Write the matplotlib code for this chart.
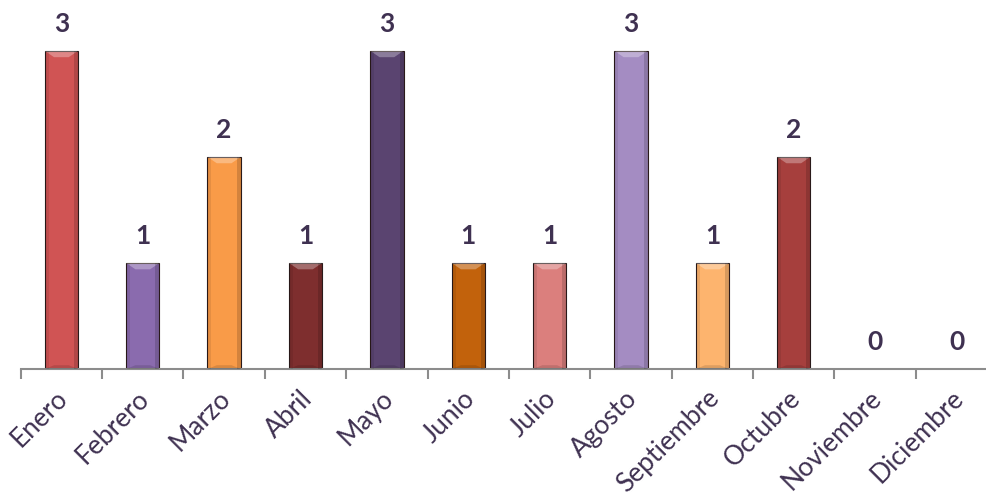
import numpy as np
import matplotlib.pyplot as plt
from matplotlib.patches import Polygon
from matplotlib.transforms import ScaledTranslation

meses = ['Enero', 'Febrero', 'Marzo', 'Abril', 'Mayo', 'Junio', 'Julio',
         'Agosto', 'Septiembre', 'Octubre', 'Noviembre', 'Diciembre']
valores = [3, 1, 2, 1, 3, 1, 1, 3, 1, 2, 0, 0]
colores = ['#D05454', '#8A6BAE', '#F99B48', '#7E2E2E', '#5A4470', '#C2620C',
           '#DB7F7D', '#A48CC2', '#FDB46E', '#A63F3D', '#A63F3D', '#A63F3D']

texto = '#3F3151'

fig = plt.figure(figsize=(9.87, 4.98), dpi=100)
ax = fig.add_axes([20.7 / 987, 129 / 498, 976.5 / 987, 350 / 498])

x = np.arange(len(meses))
ancho = 0.41
barras = ax.bar(x, valores, width=ancho, color=colores, edgecolor='#2a1a1a',
                linewidth=0.8, zorder=2)

# bisel superior claro / inferior oscuro
for b in barras:
    h = b.get_height()
    if h <= 0:
        continue
    x0, w = b.get_x(), b.get_width()
    dy = 0.06
    dx = w * 0.28
    top = Polygon([[x0, h], [x0 + w, h], [x0 + w - dx, h - dy], [x0 + dx, h - dy]],
                  closed=True, facecolor='white', alpha=0.3, lw=0, zorder=3)
    bot = Polygon([[x0, 0], [x0 + w, 0], [x0 + w - dx, dy * 0.6], [x0 + dx, dy * 0.6]],
                  closed=True, facecolor='black', alpha=0.12, lw=0, zorder=3)
    ax.add_patch(top)
    ax.add_patch(bot)
    ax.add_patch(plt.Rectangle((x0, 0), w * 0.12, h, facecolor='black', alpha=0.08,
                               lw=0, zorder=3))
    ax.add_patch(plt.Rectangle((x0 + w * 0.88, 0), w * 0.12, h, facecolor='black',
                               alpha=0.15, lw=0, zorder=3))

for xi, v in zip(x, valores):
    ax.annotate(str(v), (xi, v), xytext=(0, 13.5), textcoords='offset points',
                ha='center', va='baseline', fontsize=19, fontweight='bold',
                color=texto, family='Lato')

ax.set_xlim(-0.5, len(meses) - 0.5)
ax.set_ylim(0, 3.3)

for s in ['top', 'right', 'left']:
    ax.spines[s].set_visible(False)
ax.spines['bottom'].set_color('#8C8C8C')
ax.spines['bottom'].set_linewidth(1.5)
ax.set_yticks([])

ax.set_xticks(x)
ax.set_xticklabels(meses, rotation=45, ha='right', va='top', rotation_mode='anchor',
                   fontsize=19, color=texto, family='Lato')
ax.tick_params(axis='x', which='major', length=0, pad=12)
ax.set_xticks(np.arange(-0.5, len(meses) + 0.5, 1), minor=True)
ax.tick_params(axis='x', which='minor', length=7, width=1.5, color='#8C8C8C')

desplaza = ScaledTranslation(-6 / 100, 0, fig.dpi_scale_trans)
for lbl in ax.get_xticklabels():
    lbl.set_transform(lbl.get_transform() + desplaza)

fig.savefig('out.png', dpi=100)
